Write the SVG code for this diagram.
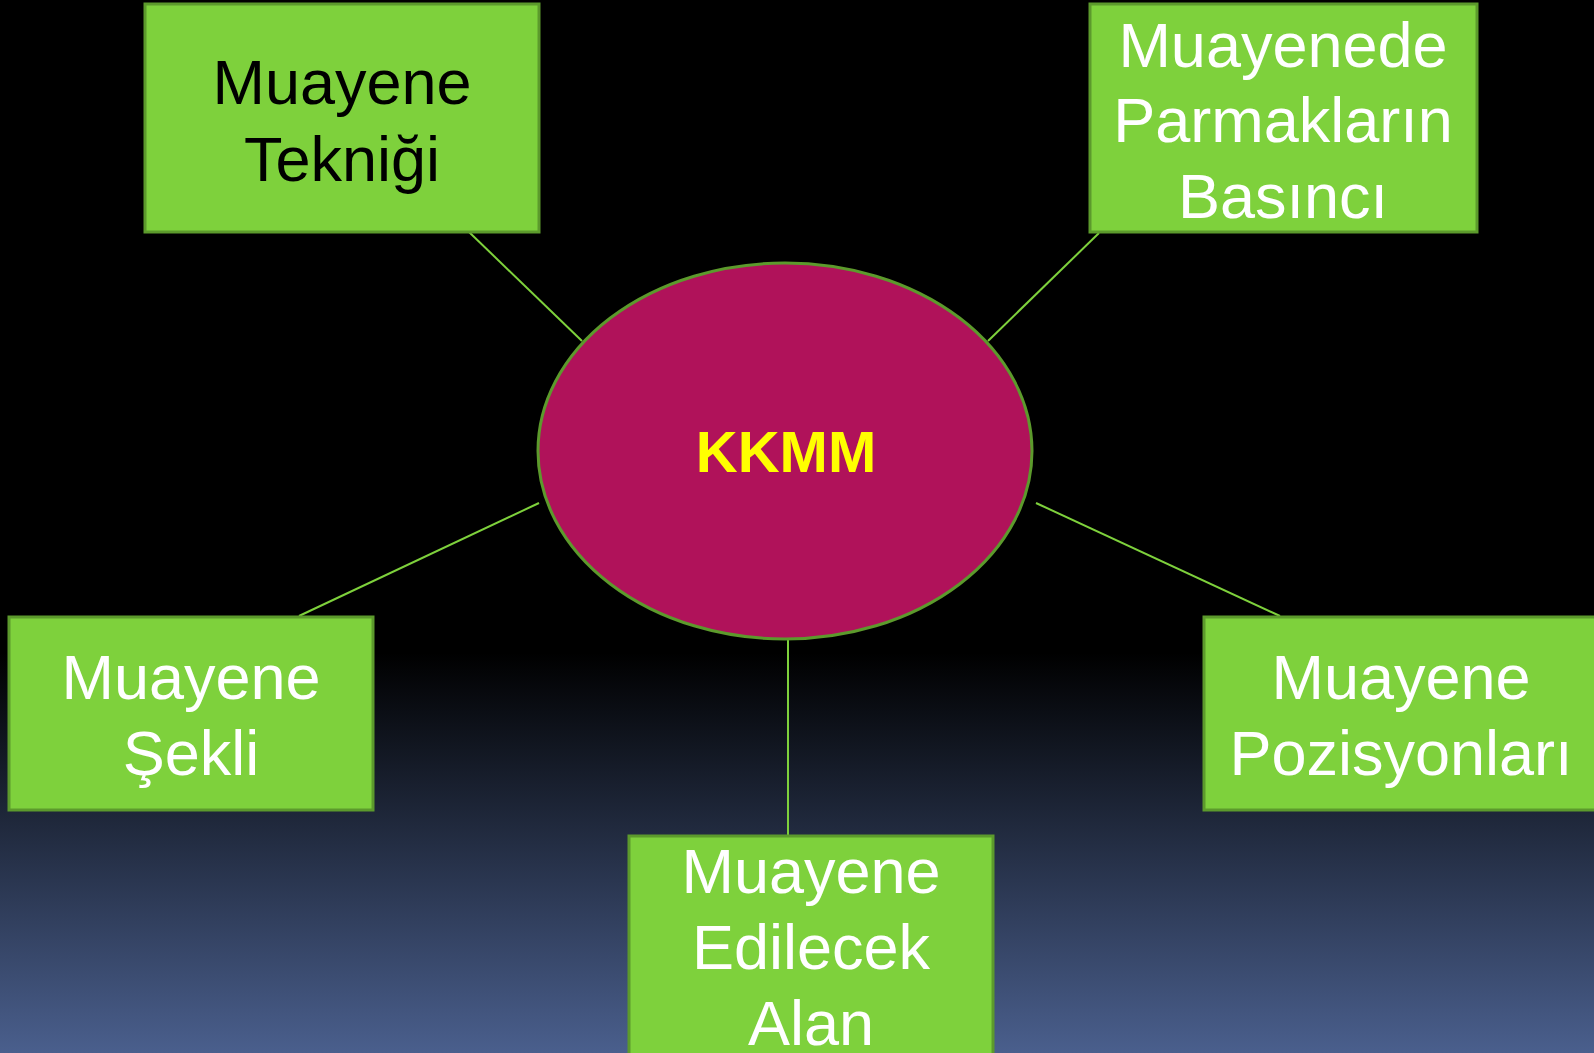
<svg xmlns="http://www.w3.org/2000/svg" width="1594" height="1053" viewBox="0 0 1594 1053">
<defs>
<linearGradient id="bg" x1="0" y1="0" x2="0" y2="1053" gradientUnits="userSpaceOnUse">
<stop offset="0" stop-color="#000000"/>
<stop offset="0.62" stop-color="#000000"/>
<stop offset="1" stop-color="#4a5f8d"/>
</linearGradient>
<style>
.box{fill:#7ed13c;stroke:#5c9a2c;stroke-width:3}
.lbl{font-family:"Liberation Sans",Arial,sans-serif;font-size:63px;text-anchor:middle}
.w{fill:#ffffff}
.k{fill:#000000}
.con line{stroke:#7ed13c;stroke-width:2}
</style>
</defs>
<rect x="0" y="0" width="1594" height="1053" fill="url(#bg)"/>
<g id="connectors" class="con">
<line x1="469" y1="232" x2="582" y2="341"/>
<line x1="1099" y1="233" x2="988" y2="341"/>
<line x1="299" y1="616" x2="539" y2="503"/>
<line x1="1280" y1="616" x2="1036" y2="503"/>
<line x1="788" y1="639" x2="788" y2="835"/>
</g>
<g id="center">
<ellipse cx="785" cy="451" rx="247" ry="188" fill="#b0125a" stroke="#5c9a2c" stroke-width="3"/>
<text x="786" y="472" font-family="'Liberation Sans',Arial,sans-serif" font-size="58" font-weight="bold" fill="#ffff00" text-anchor="middle">KKMM</text>
</g>
<g id="n-teknigi">
<rect class="box" x="145" y="4" width="394" height="228"/>
<text class="lbl k" x="342" y="104">Muayene</text>
<text class="lbl k" x="342" y="181">Tekniği</text>
</g>
<g id="n-basinci">
<rect class="box" x="1090" y="4" width="387" height="228"/>
<text class="lbl w" x="1283" y="67">Muayenede</text>
<text class="lbl w" x="1283" y="142">Parmakların</text>
<text class="lbl w" x="1283" y="218">Basıncı</text>
</g>
<g id="n-sekli">
<rect class="box" x="9" y="617" width="364" height="193"/>
<text class="lbl w" x="191" y="699">Muayene</text>
<text class="lbl w" x="191" y="775">Şekli</text>
</g>
<g id="n-pozisyonlari">
<rect class="box" x="1204" y="617" width="394" height="193"/>
<text class="lbl w" x="1401" y="699">Muayene</text>
<text class="lbl w" x="1401" y="775">Pozisyonları</text>
</g>
<g id="n-alan">
<rect class="box" x="629" y="836" width="364" height="230"/>
<text class="lbl w" x="811" y="893">Muayene</text>
<text class="lbl w" x="811" y="969">Edilecek</text>
<text class="lbl w" x="811" y="1045">Alan</text>
</g>
</svg>
